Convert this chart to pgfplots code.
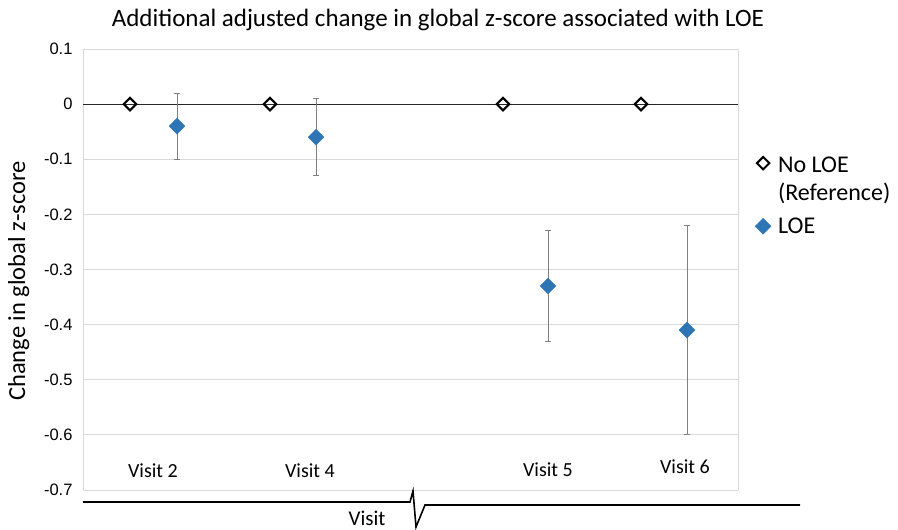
\documentclass[border=0pt]{standalone}
\usepackage{pgfplots}
\pgfplotsset{compat=1.18}
\usepackage{fontspec}
\setmainfont{Carlito}
\newfontfamily\arial{Liberation Sans}
\definecolor{loeblue}{HTML}{2E75B6}
\definecolor{gridgray}{HTML}{D9D9D9}
\definecolor{errgray}{HTML}{7F7F7F}
\begin{document}
\begin{tikzpicture}
\useasboundingbox (0,0) rectangle (898pt,530pt);
\begin{axis}[
  at={(83pt,40pt)}, anchor=south west,
  scale only axis, width=655pt, height=441pt,
  xmin=83, xmax=738, ymin=-0.7, ymax=0.1,
  xtick=\empty,
  ytick={-0.7,-0.6,-0.5,-0.4,-0.3,-0.2,-0.1,0,0.1},
  yticklabels={-0.7,-0.6,-0.5,-0.4,-0.3,-0.2,-0.1,0,0.1},
  major tick length=0pt,
  ymajorgrids, grid style={gridgray, line width=0.8pt},
  extra y ticks={0}, extra y tick labels={},
  extra y tick style={grid style={black!85, line width=0.7pt}},
  axis line style={draw=none},
  axis x line=none,
  separate axis lines,
  y axis line style={draw=gridgray, line width=0.8pt},
  yticklabel style={font=\arial\fontsize{16.5}{18}\selectfont, xshift=-7pt},
  /pgf/number format/assume math mode=true,
  title={Additional adjusted change in global z-score associated with LOE},
  title style={font=\fontsize{25}{28}\selectfont, at={(axis description cs:0.542,1.052)}, anchor=center},
  ylabel={Change in global z-score},
  ylabel style={font=\fontsize{24.5}{28}\selectfont, at={(axis description cs:-0.098,0.474)}, rotate=0, anchor=center},
  legend style={at={(axis description cs:1.026,0.77)}, anchor=north west, draw=none, fill=none,
    font=\fontsize{24}{28}\selectfont, row sep=40pt, inner sep=0pt,
    /tikz/every odd column/.append style={column sep=5pt}},
  legend cell align=left,
  clip=false,
]
\addplot[only marks, mark=square, mark options={rotate=45, line width=2pt, draw=black, fill=white}, mark size=4.4pt]
  coordinates {(130,0) (270,0) (503,0) (641,0)};
\addlegendentry{\begin{tabular}[t]{@{}l@{}}No LOE\\(Reference)\end{tabular}}
\addplot[only marks, mark=square*, mark options={rotate=45, draw=loeblue, fill=loeblue}, mark size=5.6pt,
  error bars/.cd, y dir=both, y explicit,
  error bar style={errgray, line width=1pt},
  error mark options={rotate=90, errgray, mark size=3pt, line width=1pt}]
  coordinates {
    (177,-0.04) +- (0,0.06)
    (316,-0.06) +- (0,0.07)
    (548,-0.33) +- (0,0.10)
    (687,-0.41) +- (0,0.19)
  };
\addlegendentry{LOE}
\node[font=\fontsize{20}{24}\selectfont] at (axis cs:153,-0.665) {Visit 2};
\node[font=\fontsize{20}{24}\selectfont] at (axis cs:310,-0.665) {Visit 4};
\node[font=\fontsize{20}{24}\selectfont] at (axis cs:548,-0.664) {Visit 5};
\node[font=\fontsize{20}{24}\selectfont] at (axis cs:685,-0.658) {Visit 6};
\end{axis}
\draw[black, line width=1.6pt, line join=miter]
  (83pt,28pt) -- (410pt,28pt) -- (413pt,39pt) -- (416pt,3pt) -- (425pt,25pt) -- (800pt,25pt);
\node[font=\fontsize{21}{24}\selectfont] at (367pt,12pt) {Visit};
\end{tikzpicture}
\end{document}
